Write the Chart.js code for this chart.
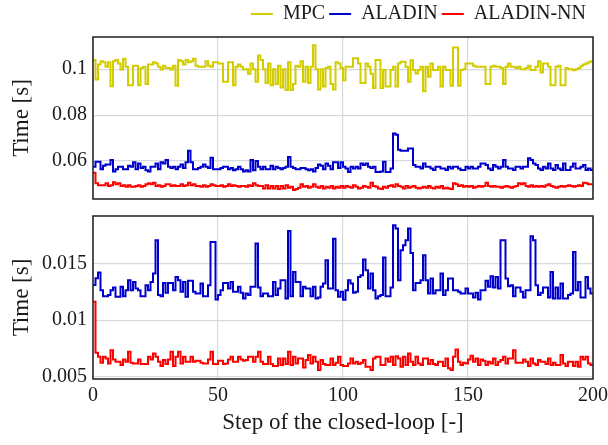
<!DOCTYPE html>
<html><head><meta charset="utf-8">
<script src="https://cdn.jsdelivr.net/npm/chart.js@4.4.1/dist/chart.umd.min.js"></script>
<style>
html,body{margin:0;padding:0;background:#fff;}
#wrap{position:relative;width:608px;height:445px;overflow:hidden;}
canvas{position:absolute;left:0;}
</style></head><body>
<div id="wrap">
<canvas id="leg" width="608" height="44" style="top:0"></canvas>
<canvas id="topc" width="608" height="178" style="top:28px"></canvas>
<canvas id="botc" width="608" height="239" style="top:206px"></canvas>
</div>
<script>
// ---------- data ----------
const seriesNames = ['MPC', 'ALADIN', 'ALADIN-NN'];
const xTicks = [0, 50, 100, 150, 200];
const topTickVals = [0.06, 0.08, 0.1];
const topTickLabels = ['0.06', '0.08', '0.1'];
const botTickVals = [0.005, 0.01, 0.015];
const botTickLabels = ['0.005', '0.01', '0.015'];

const mpcTop = [
0.104,0.0955,0.102,0.1035,0.103,0.101,0.103,0.0926,0.1035,0.104,
0.1025,0.0999,0.1045,0.101,0.093,0.093,0.1015,0.1015,0.093,0.1005,
0.101,0.0935,0.102,0.102,0.103,0.1025,0.101,0.0999,0.1015,0.1005,
0.1005,0.0999,0.1015,0.0928,0.104,0.1035,0.102,0.104,0.103,0.1035,
0.1045,0.1015,0.101,0.101,0.101,0.1035,0.1015,0.101,0.103,0.103,
0.1025,0.1025,0.0945,0.0945,0.103,0.103,0.093,0.101,0.102,0.101,
0.0999,0.1,0.098,0.1025,0.1,0.0945,0.106,0.104,0.1,0.094,
0.1025,0.093,0.1,0.0935,0.1015,0.092,0.1,0.0909,0.103,0.0909,
0.0935,0.1015,0.101,0.1035,0.0945,0.101,0.094,0.101,0.1104,0.1,
0.0912,0.1,0.0925,0.1005,0.101,0.0935,0.0912,0.103,0.1025,0.1005,
0.0952,0.101,0.101,0.101,0.1048,0.1048,0.1025,0.094,0.094,0.1025,
0.101,0.098,0.0918,0.104,0.104,0.0918,0.0996,0.0925,0.0925,0.0996,
0.101,0.0925,0.1025,0.1032,0.1032,0.101,0.0945,0.1039,0.0996,0.0981,
0.0996,0.101,0.0904,0.101,0.0967,0.1025,0.0996,0.0996,0.101,0.0925,
0.101,0.0996,0.0996,0.0928,0.1094,0.1094,0.0928,0.0996,0.1,0.1025,
0.1025,0.1025,0.1015,0.101,0.101,0.101,0.101,0.0935,0.0935,0.101,
0.1015,0.101,0.101,0.1005,0.0935,0.101,0.1025,0.101,0.101,0.1005,
0.101,0.1,0.1,0.1005,0.1015,0.0996,0.0996,0.101,0.1035,0.0985,
0.1025,0.1025,0.101,0.093,0.093,0.101,0.1015,0.093,0.093,0.1005,
0.1,0.1,0.0995,0.1,0.1005,0.1015,0.102,0.1025,0.103,0.1035,0.1035];

const aladinTop = [
0.0575,0.0597,0.0597,0.0565,0.058,0.0585,0.0585,0.0605,0.0555,0.0565,
0.0575,0.0575,0.0565,0.0565,0.058,0.0575,0.0595,0.0565,0.059,0.057,
0.0575,0.056,0.0555,0.0575,0.0575,0.059,0.0565,0.0595,0.059,0.0605,
0.0575,0.057,0.0575,0.0565,0.0575,0.0585,0.057,0.0595,0.0645,0.0595,
0.0565,0.0565,0.057,0.0575,0.0585,0.0575,0.057,0.0615,0.0565,0.0565,
0.0565,0.057,0.0575,0.0575,0.0565,0.057,0.056,0.0565,0.0575,0.0565,
0.0555,0.056,0.0555,0.0605,0.056,0.06,0.0575,0.0565,0.0575,0.0565,
0.0565,0.058,0.0565,0.0575,0.057,0.0565,0.057,0.0575,0.0618,0.0575,
0.057,0.0565,0.0565,0.057,0.057,0.0565,0.056,0.0565,0.0555,0.057,
0.0585,0.058,0.0565,0.059,0.058,0.0565,0.0595,0.0595,0.057,0.0595,
0.0575,0.0568,0.0553,0.0575,0.0568,0.0575,0.0568,0.059,0.0583,0.059,
0.0575,0.057,0.0575,0.0553,0.0553,0.0555,0.0597,0.0553,0.0553,0.0568,
0.072,0.0715,0.0649,0.0645,0.0645,0.0645,0.0655,0.0655,0.0583,0.0575,
0.0575,0.0568,0.059,0.0575,0.0575,0.0568,0.0561,0.0575,0.0575,0.0568,
0.0568,0.0561,0.0575,0.0568,0.0575,0.0575,0.0568,0.0561,0.0561,0.0575,
0.0568,0.0575,0.0568,0.0568,0.0575,0.059,0.059,0.0583,0.0568,0.0561,
0.0583,0.0575,0.0568,0.0575,0.0605,0.0575,0.0568,0.0568,0.0561,0.0575,
0.0575,0.0568,0.0575,0.0575,0.0612,0.0605,0.059,0.0583,0.0568,0.0561,
0.0575,0.0568,0.059,0.0568,0.0561,0.0583,0.0568,0.0561,0.059,0.0561,
0.0561,0.0575,0.059,0.0568,0.0568,0.0575,0.0583,0.0561,0.0568,0.0561,0.0568];

const aladinNnTop = [
0.0549,0.0503,0.0495,0.0495,0.0495,0.0503,0.0492,0.0495,0.0508,0.0499,
0.0503,0.0492,0.0495,0.0488,0.0495,0.0488,0.0488,0.0492,0.0495,0.0488,
0.0492,0.0499,0.0503,0.0499,0.0506,0.0492,0.0495,0.0488,0.0492,0.0499,
0.0499,0.0492,0.0495,0.0492,0.0492,0.0499,0.0492,0.0495,0.0506,0.0495,
0.0499,0.0492,0.0492,0.0488,0.0495,0.0488,0.0492,0.0499,0.0495,0.0492,
0.0492,0.0495,0.0488,0.0492,0.0499,0.0492,0.0495,0.0492,0.0488,0.0492,
0.0492,0.0488,0.0495,0.0492,0.0503,0.0495,0.0492,0.0492,0.0481,0.0495,
0.0481,0.0492,0.0481,0.0492,0.0478,0.0492,0.0481,0.0495,0.0484,0.0488,
0.0474,0.0478,0.0484,0.0499,0.0488,0.0492,0.0484,0.0488,0.0499,0.0488,
0.0484,0.0492,0.0481,0.0488,0.0484,0.0492,0.0481,0.0488,0.0484,0.0492,
0.0484,0.0492,0.0488,0.0484,0.0495,0.0488,0.0481,0.0484,0.0492,0.0488,
0.0484,0.0506,0.0492,0.0488,0.0481,0.0478,0.0488,0.0484,0.0492,0.0495,
0.0488,0.0499,0.0492,0.0488,0.0481,0.0492,0.0484,0.0488,0.0492,0.0484,
0.0481,0.0484,0.0488,0.0484,0.0492,0.0484,0.0481,0.0488,0.0484,0.0492,
0.0481,0.0484,0.0481,0.0478,0.0503,0.0499,0.0492,0.0495,0.0488,0.0492,
0.0488,0.0492,0.0484,0.0488,0.0492,0.0488,0.0492,0.0506,0.0492,0.0488,
0.0492,0.0488,0.0488,0.0484,0.0488,0.0492,0.0488,0.0484,0.0488,0.0492,
0.0503,0.0499,0.0503,0.0492,0.0488,0.0495,0.0488,0.0492,0.0488,0.0492,
0.0488,0.0495,0.0499,0.0492,0.0488,0.0484,0.0488,0.0492,0.0488,0.0492,
0.0495,0.0492,0.0488,0.0492,0.0495,0.0492,0.0506,0.0503,0.0499,0.0499,0.0495];

const aladinBot = [
0.0131,0.0137,0.0142,0.01265,0.0121,0.0121,0.01221,0.01265,0.01288,0.01206,
0.01206,0.01294,0.01212,0.01265,0.01353,0.01265,0.01338,0.01279,0.01265,0.01212,
0.01212,0.01309,0.01265,0.01338,0.01412,0.01706,0.01221,0.01212,0.01329,0.01241,
0.01329,0.01329,0.01265,0.01382,0.01353,0.0125,0.01338,0.01206,0.01347,0.01347,
0.0125,0.01235,0.01235,0.01324,0.01212,0.01212,0.01309,0.01691,0.01691,0.01182,
0.01221,0.01265,0.01329,0.01329,0.01279,0.01338,0.0125,0.0125,0.01294,0.01241,
0.01191,0.01235,0.01221,0.01294,0.01294,0.01676,0.01288,0.01212,0.01235,0.01235,
0.01212,0.01212,0.01338,0.01221,0.01279,0.01353,0.01353,0.01191,0.01788,0.01212,
0.01426,0.01338,0.01338,0.01212,0.01294,0.01279,0.01279,0.01212,0.01294,0.01191,
0.012,0.01294,0.01324,0.01529,0.01279,0.01279,0.0172,0.01265,0.01206,0.0125,
0.0118,0.01265,0.01353,0.01324,0.01241,0.0125,0.01382,0.01397,0.01535,0.01441,
0.01279,0.01412,0.01265,0.01191,0.01212,0.01221,0.01553,0.01212,0.01212,0.01288,
0.01838,0.01809,0.01353,0.01618,0.01662,0.01706,0.01809,0.01594,0.01265,0.01329,
0.01329,0.01353,0.01574,0.01353,0.01235,0.01368,0.01235,0.01265,0.01265,0.01412,
0.01221,0.01265,0.01368,0.01368,0.01265,0.01265,0.0125,0.01235,0.01235,0.01279,
0.01235,0.01235,0.012,0.01241,0.01182,0.01265,0.01265,0.01347,0.01294,0.01388,
0.01288,0.01382,0.01279,0.01706,0.01706,0.01368,0.013,0.01309,0.01212,0.01288,
0.01288,0.0125,0.012,0.01265,0.01265,0.01741,0.01706,0.01309,0.01221,0.01241,
0.01288,0.01288,0.012,0.01426,0.01191,0.01288,0.01191,0.01324,0.01191,0.01191,
0.01221,0.01235,0.01603,0.01265,0.01338,0.012,0.012,0.01382,0.01279,0.01235,0.01235];

const aladinNnBot = [
0.01162,0.00712,0.00676,0.00624,0.00676,0.00662,0.00618,0.00735,0.00653,0.00632,
0.00632,0.00603,0.00653,0.00632,0.00721,0.00624,0.00618,0.00618,0.00653,0.00612,
0.00612,0.00612,0.00676,0.00653,0.00706,0.00676,0.00632,0.00594,0.00647,0.00612,
0.00653,0.00721,0.00594,0.00676,0.00721,0.00618,0.00676,0.00632,0.00632,0.00676,
0.00632,0.00641,0.00641,0.00624,0.00618,0.00618,0.00653,0.00721,0.00612,0.00612,
0.00641,0.00641,0.00612,0.00618,0.00653,0.00676,0.00632,0.00632,0.00676,0.00653,
0.00641,0.00647,0.00676,0.00676,0.00632,0.00676,0.00721,0.00632,0.00612,0.00612,
0.00676,0.00612,0.00594,0.00594,0.00662,0.00603,0.00662,0.00612,0.00721,0.00603,
0.00676,0.00618,0.00662,0.00662,0.00582,0.00647,0.00691,0.00618,0.00676,0.00632,
0.00559,0.00647,0.00612,0.00603,0.00603,0.00662,0.00603,0.00624,0.00676,0.00603,
0.00594,0.00594,0.00618,0.00662,0.00618,0.00632,0.00612,0.00624,0.00647,0.00588,
0.00588,0.00559,0.00662,0.00676,0.00676,0.00603,0.00603,0.00662,0.00632,0.00676,
0.00603,0.00682,0.00662,0.00588,0.00676,0.00603,0.00706,0.00632,0.00603,0.00676,
0.00618,0.00603,0.00662,0.00662,0.00612,0.00647,0.00612,0.00603,0.00632,0.00632,
0.00594,0.00662,0.00574,0.00559,0.00676,0.00741,0.00632,0.00603,0.00624,0.00618,
0.00653,0.00685,0.00632,0.00662,0.00603,0.00653,0.00641,0.00603,0.00632,0.00618,
0.00662,0.00603,0.00632,0.00647,0.00676,0.00618,0.00662,0.00662,0.00735,0.00624,
0.00624,0.00624,0.00653,0.00632,0.00594,0.00662,0.00618,0.00603,0.00647,0.00632,
0.00632,0.00612,0.00662,0.00603,0.00624,0.00603,0.00603,0.00691,0.00618,0.00594,
0.00632,0.00632,0.00594,0.00632,0.00588,0.00676,0.00653,0.00676,0.00618,0.00603,0.00612];

// ---------- styling ----------
const COLORS = ['#d2cc00', '#0000cc', '#ff0000'];
const FONT = "'Liberation Serif', 'Times New Roman', serif";
const TXT = '#1a1a1a';
const GRID = '#d6dade';
Chart.defaults.font.family = FONT;
Chart.defaults.color = TXT;
Chart.defaults.animation = false;

const steps = aladinBot.map((_, i) => i);
const toXY = arr => arr.map((v, i) => ({x: steps[i], y: v}));

const framePlugin = {
  id: 'frame',
  afterDatasetsDraw(chart) {
    const a = chart.chartArea, c = chart.ctx;
    c.save();
    c.strokeStyle = '#2b2b2b';
    c.lineWidth = 1.6;
    c.strokeRect(a.left, a.top, a.right - a.left, a.bottom - a.top);
    c.restore();
  }
};

function ds(label, data, color) {
  return {
    label, data: toXY(data), borderColor: color, backgroundColor: color,
    borderWidth: 2, pointRadius: 0, stepped: true, tension: 0, fill: false
  };
}

function xScale(showLabels) {
  return {
    type: 'linear', min: 0, max: 200,
    afterBuildTicks: s => { s.ticks = xTicks.map(v => ({value: v})); },
    grid: {color: GRID, lineWidth: 1.2, drawTicks: false},
    border: {display: false},
    ticks: {display: showLabels, padding: 5, font: {size: 20}, color: TXT, maxRotation: 0},
    title: showLabels ? {display: true, text: 'Step of the closed-loop [-]', font: {size: 23}, color: TXT, padding: {top: 0, bottom: 8}} : {display: false},
    afterFit: s => { s.height = showLabels ? 66 : 0; s.paddingLeft = 0; s.paddingRight = 0; }
  };
}

function yScale(min, max, vals, labels) {
  return {
    type: 'linear', min, max,
    afterBuildTicks: s => { s.ticks = vals.map(v => ({value: v})); },
    grid: {color: GRID, lineWidth: 1.2, drawTicks: false},
    border: {display: false},
    ticks: {padding: 6, font: {size: 20}, color: TXT,
      callback: (v) => { const k = vals.indexOf(v); return k >= 0 ? labels[k] : ''; }},
    title: {display: true, text: 'Time [s]', font: {size: 23}, color: TXT, padding: {top: 8, bottom: 0}},
    afterFit: s => { s.width = 93; s.paddingTop = 0; s.paddingBottom = 0; }
  };
}

// legend chart
new Chart(document.getElementById('leg'), {
  type: 'line',
  data: {datasets: seriesNames.map((n, i) => ({label: n, data: [], borderColor: COLORS[i], backgroundColor: COLORS[i], borderWidth: 2}))},
  options: {
    responsive: false,
    layout: {padding: {right: 18, top: 0}},
    scales: {x: {display: false}, y: {display: false}},
    plugins: {
      tooltip: {enabled: false},
      legend: {position: 'top', align: 'end', maxHeight: 44,
        labels: {usePointStyle: true, pointStyle: 'line', pointStyleWidth: 22, padding: 4,
          font: {size: 20}, color: TXT}}
    }
  }
});

new Chart(document.getElementById('topc'), {
  type: 'line',
  data: {datasets: [ds(seriesNames[0], mpcTop, COLORS[0]), ds(seriesNames[1], aladinTop, COLORS[1]), ds(seriesNames[2], aladinNnTop, COLORS[2])]},
  options: {
    responsive: false,
    layout: {padding: {left: 0, right: 15, top: 9, bottom: 7}},
    scales: {x: xScale(false), y: yScale(0.0435, 0.114, topTickVals, topTickLabels)},
    plugins: {legend: {display: false}, tooltip: {enabled: false}}
  },
  plugins: [framePlugin]
});

new Chart(document.getElementById('botc'), {
  type: 'line',
  data: {datasets: [ds(seriesNames[1], aladinBot, COLORS[1]), ds(seriesNames[2], aladinNnBot, COLORS[2])]},
  options: {
    responsive: false,
    layout: {padding: {left: 0, right: 15, top: 10, bottom: 0}},
    scales: {x: xScale(true), y: yScale(0.0048, 0.0192, botTickVals, botTickLabels)},
    plugins: {legend: {display: false}, tooltip: {enabled: false}}
  },
  plugins: [framePlugin]
});
</script>
</body></html>
